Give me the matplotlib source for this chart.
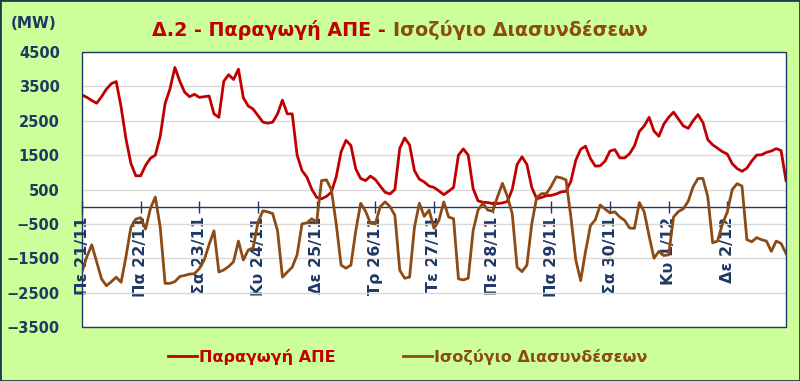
import matplotlib.pyplot as plt
from matplotlib.patches import Rectangle
import numpy as np

# ημέρες (άξονας x)
days = ['Πε 21/11', 'Πα 22/11', 'Σα 23/11', 'Κυ 24/11', 'Δε 25/11', 'Τρ 26/11',
        'Τε 27/11', 'Πε 28/11', 'Πα 29/11', 'Σα 30/11', 'Κυ 1/12', 'Δε 2/12']

step_h = 2  # ένα σημείο ανά 2 ώρες

# Παραγωγή ΑΠΕ (MW), 12 τιμές ανά ημέρα + τελευταία
ape = [3250, 3180, 3090, 3010, 3200, 3420, 3580, 3640, 2900, 1970, 1260, 900,
       900, 1200, 1410, 1500, 2050, 3000, 3430, 4050, 3650, 3330, 3200, 3270,
       3180, 3200, 3220, 2700, 2600, 3650, 3840, 3700, 4000, 3170, 2930, 2840,
       2650, 2460, 2430, 2460, 2700, 3100, 2700, 2700, 1500, 1050, 860, 510,
       270, 230, 300, 420, 870, 1600, 1930, 1780, 1100, 820, 760, 890,
       790, 600, 420, 370, 500, 1700, 2000, 1800, 1050, 800, 720, 600,
       560, 460, 350, 450, 560, 1500, 1680, 1500, 530, 170, 130, 120,
       90, 90, 110, 150, 500, 1230, 1450, 1230, 560, 230, 270, 320,
       330, 370, 430, 450, 740, 1350, 1670, 1760, 1400, 1180, 1190, 1330,
       1620, 1660, 1420, 1420, 1540, 1770, 2190, 2350, 2600, 2200, 2050, 2400,
       2600, 2750, 2550, 2350, 2280, 2500, 2680, 2450, 1950, 1800, 1700, 1600,
       1530, 1250, 1110, 1030, 1120, 1330, 1500, 1510, 1580, 1620, 1690, 1630,
       760]

# Ισοζύγιο Διασυνδέσεων (MW)
isozygio = [-1890, -1450, -1110, -1600, -2100, -2300, -2180, -2050, -2200, -1450, -600, -360,
            -320, -650, -50, 280, -600, -2230, -2230, -2180, -2030, -2000, -1960, -1950,
            -1800, -1550, -1100, -700, -1900, -1840, -1740, -1600, -1000, -1550, -1260, -1200,
            -450, -120, -150, -200, -700, -2050, -1900, -1760, -1400, -500, -470, -350,
            -450, 760, 780, 500, -500, -1700, -1790, -1700, -700, 100, -130, -480,
            -500, 0, 140, 0, -250, -1850, -2080, -2050, -600, 100, -280, -100,
            -630, -400, 140, -300, -350, -2100, -2130, -2080, -700, -100, 100, -100,
            -130, 290, 680, 300, -200, -1760, -1890, -1700, -500, 270, 380, 380,
            600, 870, 840, 780, -300, -1550, -2150, -1300, -550, -380, 50, -70,
            -180, -150, -300, -400, -620, -630, 120, -150, -850, -1500, -1300, -1420,
            -1400, -300, -140, -60, 160, 580, 820, 820, 290, -1050, -1000, -500,
            -150, 500, 670, 600, -960, -1020, -900, -960, -1000, -1300, -1000, -1070,
            -1360]

hours = np.arange(len(ape)) * step_h

navy = '#1f3864'
red = '#c00000'
brown = '#8c4a14'

fig = plt.figure(figsize=(8, 3.81), dpi=100, facecolor='#ccff99')
ax = fig.add_axes([0.1025, 0.1417, 0.88, 0.7218])
ax.set_facecolor('white')

ax.plot(hours, ape, color=red, lw=2.0, label='Παραγωγή ΑΠΕ', zorder=3)
ax.plot(hours, isozygio, color=brown, lw=2.0, label='Ισοζύγιο Διασυνδέσεων', zorder=3)

ax.set_xlim(0, 288)
ax.set_ylim(-3500, 4500)
ax.set_yticks(np.arange(-3500, 4501, 1000))
ax.yaxis.grid(True, color='#d9d9d9', lw=1)
ax.set_axisbelow(True)

for s in ['top', 'right', 'left']:
    ax.spines[s].set_visible(False)
ax.spines['bottom'].set_position(('data', 0))
ax.spines['bottom'].set_color(navy)
ax.spines['bottom'].set_linewidth(1)
# πλαίσιο περιοχής σχεδίασης
ax.add_patch(Rectangle((0, 0), 1, 1, transform=ax.transAxes, fill=False,
                       ec=navy, lw=1, zorder=5, clip_on=False))

ax.set_xticks(np.arange(0, 288, 24))
ax.set_xticklabels(days, rotation=90, ha='center', fontweight='bold')
ax.tick_params(axis='x', direction='inout', length=9, color=navy, width=1,
               pad=2.5, labelsize=11.5, labelcolor=navy)
ax.tick_params(axis='y', length=0, pad=16, labelsize=10.5, labelcolor=navy)
for lbl in ax.get_yticklabels():
    lbl.set_fontweight('bold')

# τίτλος σε δύο χρώματα
renderer = fig.canvas.get_renderer()
t1 = fig.text(0, 1 - 30 / 381, 'Δ.2 - Παραγωγή ΑΠΕ - ', color=red, fontsize=13.8,
              fontweight='bold', va='center', ha='left')
t2 = fig.text(0, 1 - 30 / 381, 'Ισοζύγιο Διασυνδέσεων', color=brown, fontsize=13.8,
              fontweight='bold', va='center', ha='left')
w1 = t1.get_window_extent(renderer).width
w2 = t2.get_window_extent(renderer).width
x0 = 400 - (w1 + w2) / 2
t1.set_x(x0 / 800)
t2.set_x((x0 + w1) / 800)

fig.text(34 / 800, 1 - 24 / 381, '(MW)', color=navy, fontsize=11,
         fontweight='bold', ha='center', va='center')

fig.legend(loc='center', bbox_to_anchor=(0.51, 0.063), ncol=2, frameon=False,
           labelcolor='linecolor', handlelength=1.8, handletextpad=0.15,
           columnspacing=4.2,
           prop={'family': 'DejaVu Sans', 'size': 11.5, 'weight': 'bold'})

# εξωτερικό περίγραμμα
fig.add_artist(Rectangle((0, 0), 1, 1, transform=fig.transFigure, fill=False,
                         ec='#1f3b4d', lw=2))

fig.savefig('out.png', dpi=100, facecolor=fig.get_facecolor())
